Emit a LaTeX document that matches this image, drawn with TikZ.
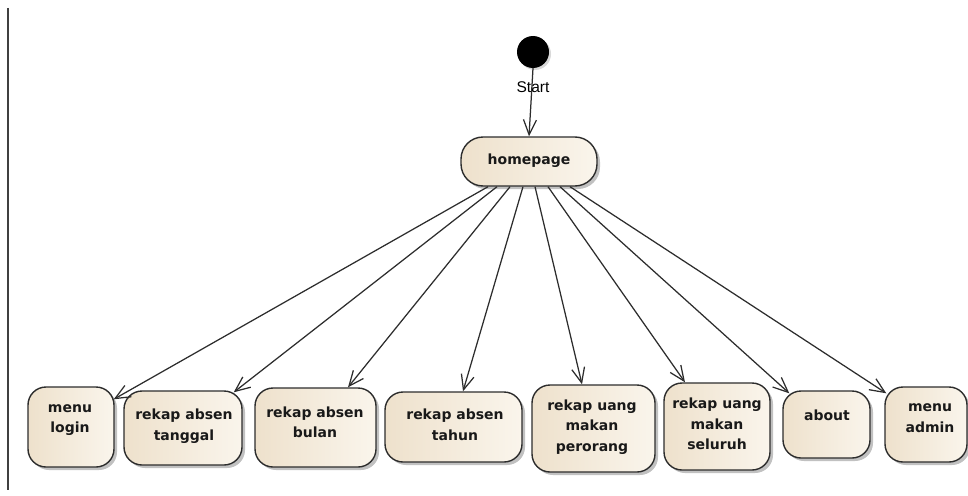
\documentclass[tikz,border=0pt]{standalone}
\usepackage{fontspec}
\setmainfont{DejaVu Sans}
\newfontfamily\startfont{Liberation Sans}
\usetikzlibrary{arrows.meta,shadows,calc}
\definecolor{actL}{RGB}{238,225,204}
\definecolor{actR}{RGB}{250,245,236}
\definecolor{edgecol}{RGB}{45,45,45}
\begin{document}
\begin{tikzpicture}[x=1pt,y=-1pt,
  act/.style={draw=edgecol, line width=1.4pt, rounded corners=18pt,
    left color=actL, right color=actR,
    drop shadow={shadow xshift=3pt, shadow yshift=-3pt, opacity=0.35, fill=black!70},
    inner sep=0pt},
  lbl/.style={font=\fontsize{14}{20.5}\selectfont\bfseries, align=center, text=black!90},
  flow/.style={draw=edgecol, line width=1.25pt, -{Straight Barb[length=15pt,width=13pt]}}
]
\useasboundingbox (0,0) rectangle (968,495);

% frame line on the left
\draw[line width=1.5pt, black!75] (8,8) -- (8,490);

% initial node
\node[circle, fill=black, minimum size=32pt, inner sep=0pt,
      drop shadow={shadow xshift=2pt, shadow yshift=-2pt, opacity=0.3}] (start) at (533,52) {};

% homepage
\node[act, rounded corners=22pt, minimum width=136pt, minimum height=49pt] (hp) at (529,161.5) {};
\node[lbl] (hpT) at (529,161) {homepage};

\draw[flow] (start.south) -- (hp.north);
\node[font=\startfont\fontsize{15.5}{18}\selectfont] (startT) at (533,87) {Start};

% activities
\node[act, minimum width=86pt,  minimum height=80pt] (login)    at (71,427)    {};
\node[act, minimum width=118pt, minimum height=74pt] (tanggal)  at (183,428)   {};
\node[act, minimum width=121pt, minimum height=79pt] (bulan)    at (315.5,427.5) {};
\node[act, minimum width=137pt, minimum height=70pt] (tahun)    at (453.5,427) {};
\node[act, minimum width=123pt, minimum height=87pt] (perorang) at (593.5,428.5) {};
\node[act, minimum width=106pt, minimum height=87pt] (seluruh)  at (717,426.5) {};
\node[act, minimum width=87pt,  minimum height=67pt] (about)    at (826.5,424.5) {};
\node[act, minimum width=82pt,  minimum height=75pt] (admin)    at (926,424.5) {};

\node[lbl] (loginT)    at (70,420)    {menu\\login};
\node[lbl] (tanggalT)  at (184,426)   {rekap absen\\tanggal};
\node[lbl] (bulanT)    at (315,422.5) {rekap absen\\bulan};
\node[lbl] (tahunT)    at (455,425)   {rekap absen\\tahun};
\node[lbl] (perorangT) at (592,427)   {rekap uang\\makan\\perorang};
\node[lbl] (seluruhT)  at (717,424)   {rekap uang\\makan\\seluruh};
\node[lbl] (aboutT)    at (827,415)   {about};
\node[lbl] (adminT)    at (930,418)   {menu\\admin};

% transitions out of homepage
\draw[flow] ($(hp.south)+(-41,0)$) -- ($(login.north east)+(-1,13)$);
\draw[flow] ($(hp.south)+(-32,0)$) -- ($(tanggal.north east)+(-9,2)$);
\draw[flow] ($(hp.south)+(-19,0)$) -- ($(bulan.north)+(32.5,0)$);
\draw[flow] ($(hp.south)+(-6,0)$)  -- ($(tahun.north)+(9.5,0)$);
\draw[flow] ($(hp.south)+(6,0)$)   -- ($(perorang.north)+(-11.5,0)$);
\draw[flow] ($(hp.south)+(19,0)$)  -- ($(seluruh.north)+(-32,0)$);
\draw[flow] ($(hp.south)+(31,0)$)  -- ($(about.north west)+(7,3)$);
\draw[flow] ($(hp.south)+(41,0)$)  -- ($(admin.north west)+(2,7)$);
\end{tikzpicture}
\end{document}
